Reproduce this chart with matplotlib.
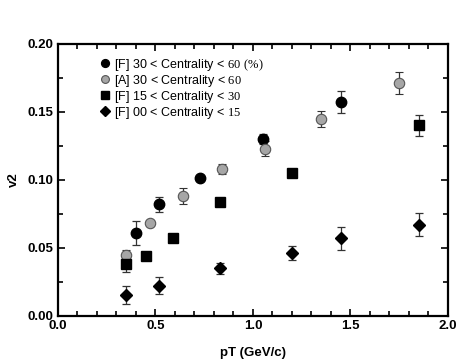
import matplotlib
matplotlib.use("Agg")
import matplotlib.pyplot as plt
from matplotlib.ticker import MultipleLocator, FormatStrFormatter

plt.rcParams["font.family"] = ["Liberation Sans", "DejaVu Sans"]
plt.rcParams["mathtext.fontset"] = "custom"
plt.rcParams["mathtext.rm"] = "Liberation Serif"

# [F] 30 < Centrality < 60
f3060_pt = [0.40, 0.52, 0.73, 1.05, 1.45]
f3060_v2 = [0.061, 0.082, 0.101, 0.130, 0.157]
f3060_err = [0.009, 0.0055, 0.0, 0.004, 0.008]

# [A] 30 < Centrality < 60
a3060_pt = [0.35, 0.47, 0.64, 0.84, 1.06, 1.35, 1.75]
a3060_v2 = [0.045, 0.068, 0.088, 0.108, 0.123, 0.145, 0.171]
a3060_err = [0.003, 0.0, 0.006, 0.004, 0.0055, 0.0058, 0.008]

# [F] 15 < Centrality < 30
f1530_pt = [0.35, 0.45, 0.59, 0.83, 1.20, 1.85]
f1530_v2 = [0.038, 0.044, 0.057, 0.084, 0.105, 0.140]
f1530_err = [0.0055, 0.0, 0.003, 0.0, 0.0, 0.0077]

# [F] 00 < Centrality < 15
f0015_pt = [0.35, 0.52, 0.83, 1.20, 1.45, 1.85]
f0015_v2 = [0.015, 0.022, 0.035, 0.046, 0.057, 0.067]
f0015_err = [0.0066, 0.0063, 0.004, 0.005, 0.0085, 0.0086]

fig = plt.figure(figsize=(4.71, 3.6), dpi=100)
ax = fig.add_axes([0.123, 0.123, 0.828, 0.755])

err_kw = dict(ls="none", ecolor="#333333", elinewidth=0.9, capsize=2.8, capthick=0.9)
ax.errorbar(f3060_pt, f3060_v2, yerr=f3060_err, marker="o", ms=7.5, mfc="black", mec="black",
            label=r"[F] 30 < Centrality < $\mathrm{60\ (\%)}$", **err_kw)
ax.errorbar(a3060_pt, a3060_v2, yerr=a3060_err, marker="o", ms=7.5, mfc="#a6a6a6", mec="#555555",
            mew=0.8, label=r"[A] 30 < Centrality < $\mathrm{60}$", **err_kw)
ax.errorbar(f1530_pt, f1530_v2, yerr=f1530_err, marker="s", ms=7, mfc="black", mec="black",
            label=r"[F] 15 < Centrality < $\mathrm{30}$", **err_kw)
ax.errorbar(f0015_pt, f0015_v2, yerr=f0015_err, marker="D", ms=6.5, mfc="black", mec="black",
            label=r"[F] 00 < Centrality < $\mathrm{15}$", **err_kw)

ax.set_xlim(0, 2.0)
ax.set_ylim(0, 0.20)
ax.xaxis.set_major_locator(MultipleLocator(0.5))
ax.xaxis.set_minor_locator(MultipleLocator(0.1))
ax.yaxis.set_major_locator(MultipleLocator(0.05))
ax.yaxis.set_minor_locator(MultipleLocator(0.025))
ax.xaxis.set_major_formatter(FormatStrFormatter("%.1f"))
ax.yaxis.set_major_formatter(FormatStrFormatter("%.2f"))
ax.tick_params(which="both", direction="in", top=True, right=True, width=1.2, labelsize=9.5, pad=3)
ax.tick_params(which="major", length=5)
ax.tick_params(which="minor", length=3.5)
for lab in ax.get_xticklabels() + ax.get_yticklabels():
    lab.set_fontweight("bold")
for sp in ax.spines.values():
    sp.set_linewidth(1.6)

ax.set_xlabel("pT (GeV/c)", fontsize=9.5, fontweight="bold", labelpad=11)
ax.set_ylabel("v2", fontsize=9.5, fontweight="bold", labelpad=6)

handles, labels = ax.get_legend_handles_labels()
handles = [h[0] for h in handles]
ax.legend(handles, labels, loc="upper left", bbox_to_anchor=(0.09, 0.985), frameon=False,
          fontsize=9, handlelength=0.5, handletextpad=0.45, labelspacing=0.0,
          borderpad=0.2, markerscale=0.75)

fig.savefig("out.png", dpi=100)
plt.close(fig)
